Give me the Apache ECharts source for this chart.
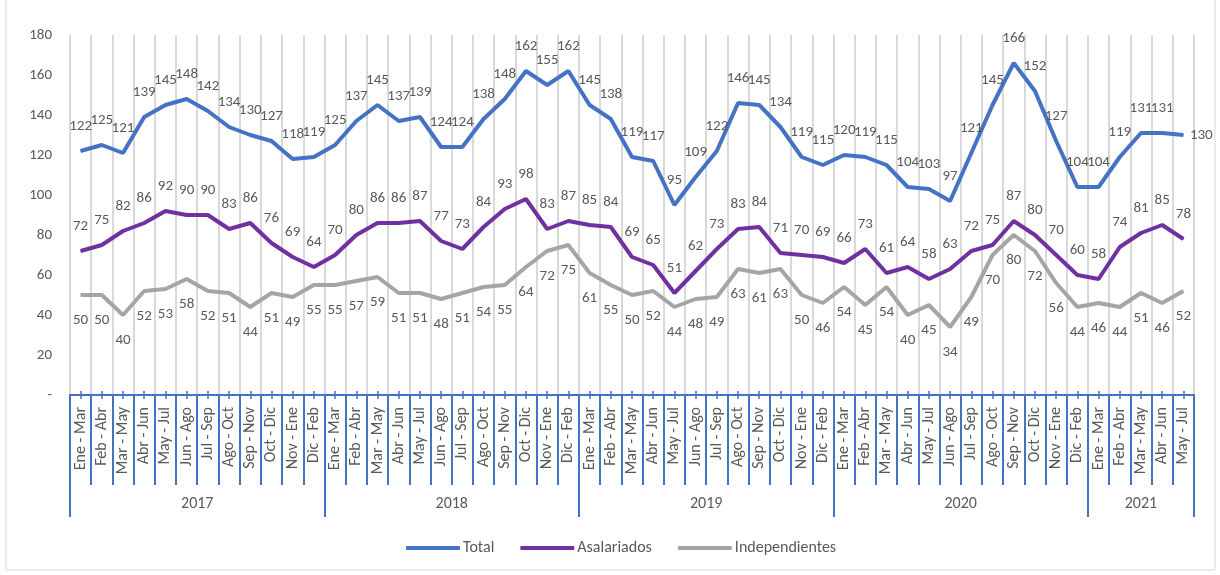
<!DOCTYPE html>
<html>
<head>
<meta charset="utf-8">
<script src="https://cdn.jsdelivr.net/npm/echarts@6/dist/echarts.min.js"></script>
<style>
  html, body { margin: 0; padding: 0; background: #fff; }
  #chart { width: 1220px; height: 575px; }
</style>
</head>
<body>
<div id="chart"></div>
<script>
var categories = [
    'Ene - Mar', 'Feb - Abr', 'Mar - May', 'Abr - Jun', 'May - Jul', 'Jun - Ago',
    'Jul - Sep', 'Ago - Oct', 'Sep - Nov', 'Oct - Dic', 'Nov - Ene', 'Dic - Feb',
    'Ene - Mar', 'Feb - Abr', 'Mar - May', 'Abr - Jun', 'May - Jul', 'Jun - Ago',
    'Jul - Sep', 'Ago - Oct', 'Sep - Nov', 'Oct - Dic', 'Nov - Ene', 'Dic - Feb',
    'Ene - Mar', 'Feb - Abr', 'Mar - May', 'Abr - Jun', 'May - Jul', 'Jun - Ago',
    'Jul - Sep', 'Ago - Oct', 'Sep - Nov', 'Oct - Dic', 'Nov - Ene', 'Dic - Feb',
    'Ene - Mar', 'Feb - Abr', 'Mar - May', 'Abr - Jun', 'May - Jul', 'Jun - Ago',
    'Jul - Sep', 'Ago - Oct', 'Sep - Nov', 'Oct - Dic', 'Nov - Ene', 'Dic - Feb',
    'Ene - Mar', 'Feb - Abr', 'Mar - May', 'Abr - Jun', 'May - Jul'
];
var years = ['2017', '2018', '2019', '2020', '2021'];
var yearSpans = [12, 12, 12, 12, 5];

var total = [
    122, 125, 121, 139, 145, 148, 142, 134, 130, 127, 118, 119,
    125, 137, 145, 137, 139, 124, 124, 138, 148, 162, 155, 162,
    145, 138, 119, 117, 95, 109, 122, 146, 145, 134, 119, 115,
    120, 119, 115, 104, 103, 97, 121, 145, 166, 152, 127, 104,
    104, 119, 131, 131, 130
];
var asalariados = [
    72, 75, 82, 86, 92, 90, 90, 83, 86, 76, 69, 64,
    70, 80, 86, 86, 87, 77, 73, 84, 93, 98, 83, 87,
    85, 84, 69, 65, 51, 62, 73, 83, 84, 71, 70, 69,
    66, 73, 61, 64, 58, 63, 72, 75, 87, 80, 70, 60,
    58, 74, 81, 85, 78
];
var independientes = [
    50, 50, 40, 52, 53, 58, 52, 51, 44, 51, 49, 55,
    55, 57, 59, 51, 51, 48, 51, 54, 55, 64, 72, 75,
    61, 55, 50, 52, 44, 48, 49, 63, 61, 63, 50, 46,
    54, 45, 54, 40, 45, 34, 49, 70, 80, 72, 56, 44,
    46, 44, 51, 46, 52
];

var FONT = "Carlito, 'Noto Sans', sans-serif";
var TXT = '#595959';
var AXIS_BLUE = '#4472C4';

// year axis: half-band positions so group centres and edges land on points
var yearAxisData = [];
for (var k = 0; k <= categories.length * 2; k++) yearAxisData.push('');
var yearTickIdx = [0];
var yearLabelIdx = [];
var start = 0;
years.forEach(function (y, i) {
    var c = start * 2 + yearSpans[i];
    yearAxisData[c] = y;
    yearLabelIdx.push(c);
    start += yearSpans[i];
    yearTickIdx.push(start * 2);
});

var chart = echarts.init(document.getElementById('chart'));

function lineSeries(name, data, color, pos, lastPos) {
    var items = data.map(function (v, i) {
        if (lastPos && i === data.length - 1) {
            return {value: v, label: {position: lastPos, distance: 6}};
        }
        return v;
    });
    return {
        name: name,
        type: 'line',
        data: items,
        symbol: 'circle',
        symbolSize: 1,
        lineStyle: {color: color, width: 4},
        itemStyle: {color: color},
        label: {
            show: true,
            position: pos,
            distance: 17,
            color: TXT,
            fontSize: 15,
            fontFamily: FONT
        }
    };
}

var option = {
    animation: false,
    textStyle: {fontFamily: FONT},
    grid: {left: 70, right: 26, top: 35, bottom: 180},
    graphic: [{
        type: 'rect',
        shape: {x: 6, y: -2, width: 1209, height: 572},
        style: {fill: 'none', stroke: '#d9d9d9', lineWidth: 1}
    }],
    legend: {
        top: 535,
        left: 401,
        icon: 'roundRect',
        itemGap: 26,
        itemWidth: 54,
        itemHeight: 4,
        textStyle: {color: TXT, fontSize: 16, fontFamily: FONT, padding: [0, 0, 0, -2]},
        data: ['Total', 'Asalariados', 'Independientes']
    },
    xAxis: [
        {
            type: 'category',
            data: categories,
            boundaryGap: true,
            axisLine: {show: true, lineStyle: {color: AXIS_BLUE, width: 2}},
            axisTick: {show: true, interval: 0, length: 90, lineStyle: {color: AXIS_BLUE, width: 2}},
            axisLabel: {interval: 0, rotate: 90, margin: 12, color: TXT, fontSize: 16, fontFamily: FONT},
            splitLine: {show: true, interval: 0, lineStyle: {color: '#d9d9d9', width: 2}}
        },
        {
            type: 'category',
            data: yearAxisData,
            boundaryGap: false,
            position: 'bottom',
            axisLine: {show: false},
            axisTick: {
                show: true,
                length: 122,
                interval: function (i) { return yearTickIdx.indexOf(i) >= 0; },
                lineStyle: {color: AXIS_BLUE, width: 2}
            },
            axisLabel: {
                interval: function (i) { return yearLabelIdx.indexOf(i) >= 0; },
                margin: 101,
                color: TXT,
                fontSize: 16,
                fontFamily: FONT
            },
            splitLine: {show: false}
        },
        {
            type: 'category',
            data: categories,
            boundaryGap: true,
            position: 'bottom',
            axisLine: {show: false},
            axisTick: {show: true, alignWithLabel: true, interval: 0, length: 4, lineStyle: {color: AXIS_BLUE, width: 1.5}},
            axisLabel: {show: false},
            splitLine: {show: false}
        },
        {
            type: 'category',
            data: categories,
            boundaryGap: true,
            position: 'bottom',
            axisLine: {show: false},
            axisTick: {show: true, inside: true, alignWithLabel: true, interval: 0, length: 4, lineStyle: {color: AXIS_BLUE, width: 1.5}},
            axisLabel: {show: false},
            splitLine: {show: false}
        }
    ],
    yAxis: {
        type: 'value',
        min: 0,
        max: 180,
        interval: 20,
        axisLine: {show: false},
        axisTick: {show: false},
        splitLine: {show: false},
        axisLabel: {
            color: TXT,
            fontSize: 15,
            fontFamily: FONT,
            margin: 18,
            formatter: function (v) { return v === 0 ? '-' : v; }
        }
    },
    series: [
        lineSeries('Total', total, '#4472C4', 'top', 'right'),
        lineSeries('Asalariados', asalariados, '#7030A0', 'top'),
        lineSeries('Independientes', independientes, '#A5A5A5', 'bottom')
    ]
};

chart.setOption(option);
</script>
</body>
</html>
